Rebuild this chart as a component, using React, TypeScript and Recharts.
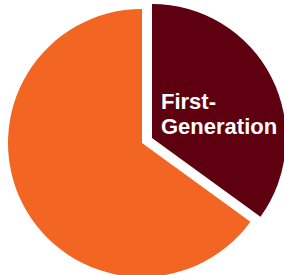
import React from "react";
import { PieChart, Pie, Cell } from "recharts";

const categories = ["First-Generation", "Other"];
const values = [35, 65];
const labelLines = ["First-", "Generation"];

const colors = ["#5E000F", "#F26522"];

const data = categories.map((name, i) => ({ name, value: values[i] }));

const renderLabel = (props: any) => {
  const { cx, cy, index } = props;
  if (index !== 0) return null;
  return (
    <text
      x={cx + 9}
      y={cy - 29}
      fill="#FFFFFF"
      fontFamily="'Liberation Sans', Arial, sans-serif"
      fontWeight={700}
      fontSize={22}
      textAnchor="start"
    >
      <tspan x={cx + 9} y={cy - 29}>{labelLines[0]}</tspan>
      <tspan x={cx + 9} y={cy - 4}>{labelLines[1]}</tspan>
    </text>
  );
};

export default function App() {
  return (
    <div style={{ position: "absolute", left: 0, top: 0 }}>
      <PieChart width={284} height={275} margin={{ top: 0, right: 0, bottom: 0, left: 0 }}>
        <Pie
          data={data}
          dataKey="value"
          nameKey="name"
          cx={142}
          cy={143}
          outerRadius={134}
          startAngle={90}
          endAngle={-270}
          stroke="none"
          isAnimationActive={false}
          labelLine={false}
        >
          {data.map((d, i) => (
            <Cell key={d.name} fill={i === 1 ? colors[1] : "transparent"} />
          ))}
        </Pie>
        <Pie
          data={data}
          dataKey="value"
          nameKey="name"
          cx={152}
          cy={138}
          outerRadius={134}
          startAngle={90}
          endAngle={-270}
          stroke="none"
          isAnimationActive={false}
          labelLine={false}
          label={renderLabel}
        >
          {data.map((d, i) => (
            <Cell key={d.name} fill={i === 0 ? colors[0] : "transparent"} />
          ))}
        </Pie>
      </PieChart>
    </div>
  );
}
